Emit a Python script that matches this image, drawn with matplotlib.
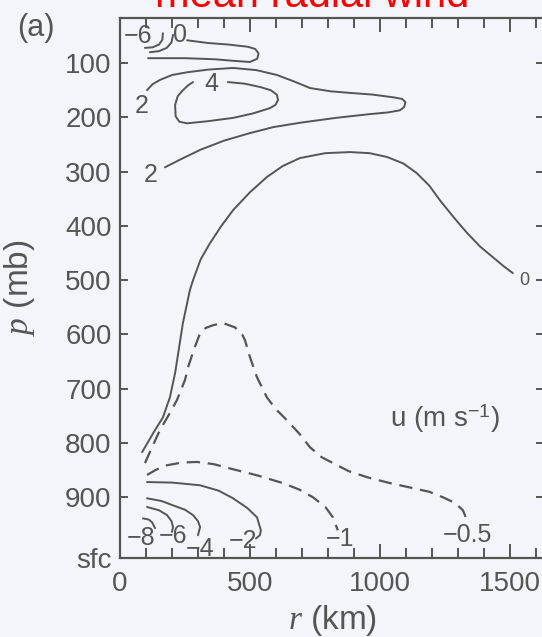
import matplotlib.pyplot as plt
from matplotlib.ticker import MultipleLocator

plt.rcParams['font.family'] = ['Liberation Sans', 'DejaVu Sans']
plt.rcParams['mathtext.fontset'] = 'custom'
plt.rcParams['mathtext.rm'] = 'Liberation Sans'
plt.rcParams['mathtext.it'] = 'Liberation Serif:italic'

# contour lines of mean radial wind (r in km, p in mb)
u0_r = [85, 130, 165, 192, 212, 228, 242, 269, 281, 310, 346, 390, 435, 500, 565, 625, 692, 790,
        885, 960, 1027, 1090, 1142, 1190, 1231, 1285, 1335, 1385, 1435, 1475, 1511]
u0_p = [817, 780, 753, 716, 671, 622, 579, 518, 500, 462, 432, 400, 371, 338, 310, 290, 275, 266,
        264, 266, 273, 285, 303, 326, 353, 385, 413, 438, 458, 474, 487]

u0top_r = [258, 338, 420, 492, 520, 533, 528, 500, 440, 365, 250, 108]
u0top_p = [58, 63, 66, 70, 74, 82, 92, 98, 96, 93, 91, 91]

u6top_r = [96, 125, 150, 163, 165]
u6top_p = [72, 71, 66, 57, 45]
u4top_r = [115, 150, 180, 198, 204]
u4top_p = [80, 78, 72, 62, 48]

u2_r = [104, 125, 154, 200, 258, 340, 435, 525, 604, 670, 731, 810, 885, 970, 1050, 1085, 1098,
        1093, 1077, 1030, 962, 830, 692, 590, 500, 400, 308, 235, 173]
u2_p = [150, 139, 131, 122, 117, 112, 109, 113, 122, 134, 146, 152, 155, 158, 163, 166, 172,
        181, 187, 191, 194, 201, 210, 218, 229, 243, 260, 277, 292]

u4_r = [415, 480, 538, 580, 603, 608, 598, 577, 510, 435, 340, 258, 228, 214, 212, 222, 242, 262, 281]
u4_p = [135, 138, 144, 150, 158, 168, 177, 183, 193, 201, 207, 211, 208, 198, 177, 161, 150, 141, 135]

um05_r = [96, 125, 154, 188, 219, 250, 262, 288, 308, 330, 358, 396, 442, 470, 481, 500, 527,
          565, 600, 642, 690, 731, 775, 819, 880, 950, 1030, 1115, 1190, 1242, 1290, 1319, 1338]
um05_p = [837, 806, 776, 748, 721, 684, 660, 623, 598, 588, 583, 579, 587, 600, 611, 642, 679,
          716, 738, 758, 783, 808, 826, 837, 852, 863, 873, 882, 890, 900, 911, 924, 946]

um1_r = [104, 140, 181, 240, 296, 360, 423, 530, 627, 690, 742, 790, 819, 838]
um1_p = [859, 849, 841, 836, 835, 839, 847, 860, 874, 886, 900, 918, 937, 961]

um2_r = [104, 200, 308, 380, 435, 490, 527, 542, 538, 523]
um2_p = [872, 873, 878, 888, 902, 920, 937, 961, 970, 976]

um4_r = [104, 160, 204, 250, 281, 300, 308, 300]
um4_p = [902, 907, 915, 923, 933, 944, 955, 970]

um6_r = [104, 150, 181, 198, 204, 200]
um6_p = [918, 924, 933, 944, 955, 964]

um8_r = [88, 110, 123, 135]
um8_p = [939, 941, 946, 957]

# contour labels: text, r, p
lab_text = ['\u22126', '0', '4', '2', '2', '0', '\u22120.5', '\u22121', '\u22122', '\u22124', '\u22126', '\u22128']
lab_r = [69, 231, 350, 85, 119, 1554, 1335, 846, 473, 308, 205, 81]
lab_p = [50, 48, 139, 179, 306, 500, 970, 977, 981, 996, 972, 976]
lab_size = [18, 18, 18, 18, 18, 13, 18, 18, 18, 18, 18, 18]

p_ticks = [100, 200, 300, 400, 500, 600, 700, 800, 900, 1012]
p_labels = ['100', '200', '300', '400', '500', '600', '700', '800', '900', 'sfc']
r_ticks = [0, 500, 1000, 1500]

ink = '#555555'
bg = '#f4f5fa'

fig = plt.figure(figsize=(5.42, 6.37), dpi=100, facecolor=bg)
ax = fig.add_axes([0.2214, 0.124, 0.7823, 0.8477], facecolor=bg)

solid = [(u0_r, u0_p), (u0top_r, u0top_p), (u6top_r, u6top_p), (u4top_r, u4top_p),
         (u2_r, u2_p), (u4_r, u4_p), (um2_r, um2_p), (um4_r, um4_p),
         (um6_r, um6_p), (um8_r, um8_p)]
dashed = [(um05_r, um05_p), (um1_r, um1_p)]

for r, p in solid:
    ax.plot(r, p, color=ink, lw=1.4, solid_joinstyle='round', solid_capstyle='round')
for r, p in dashed:
    ax.plot(r, p, color=ink, lw=1.6, dashes=(6, 3.5))

for t, r, p, s in zip(lab_text, lab_r, lab_p, lab_size):
    ax.text(r, p, t, fontsize=s, color=ink, ha='center', va='center')

ax.set_xlim(0, 1631)
ax.set_ylim(1012, 17)
ax.set_yticks(p_ticks)
ax.set_yticklabels(p_labels)
ax.set_xticks(r_ticks)
ax.xaxis.set_minor_locator(MultipleLocator(100))

ax.tick_params(which='both', direction='in', top=True, right=True, colors=ink,
               labelsize=20, width=1.4)
ax.tick_params(axis='y', length=6, pad=6)
ax.tick_params(axis='x', which='major', length=10, pad=9)
ax.tick_params(axis='x', which='minor', length=7)
for s in ax.spines.values():
    s.set_color(ink)
    s.set_linewidth(1.6)

ax.set_xlabel('$r$ (km)', fontsize=24, color=ink)
ax.xaxis.set_label_coords(0.5, -0.083)
ax.set_ylabel('$p$ (mb)', fontsize=24, color=ink)
ax.yaxis.set_label_coords(-0.195, 0.5)

ax.text(1250, 755, 'u (m s$^{\\mathregular{-1}}$)', fontsize=20, color=ink, ha='center', va='center')

fig.text(0.066, 0.956, '(a)', fontsize=22, color=ink, ha='center', va='center')
fig.text(0.576, 0.989, 'mean radial wind', fontsize=30, color='red', ha='center', va='baseline')

fig.savefig('out.png', dpi=100, facecolor=bg)
